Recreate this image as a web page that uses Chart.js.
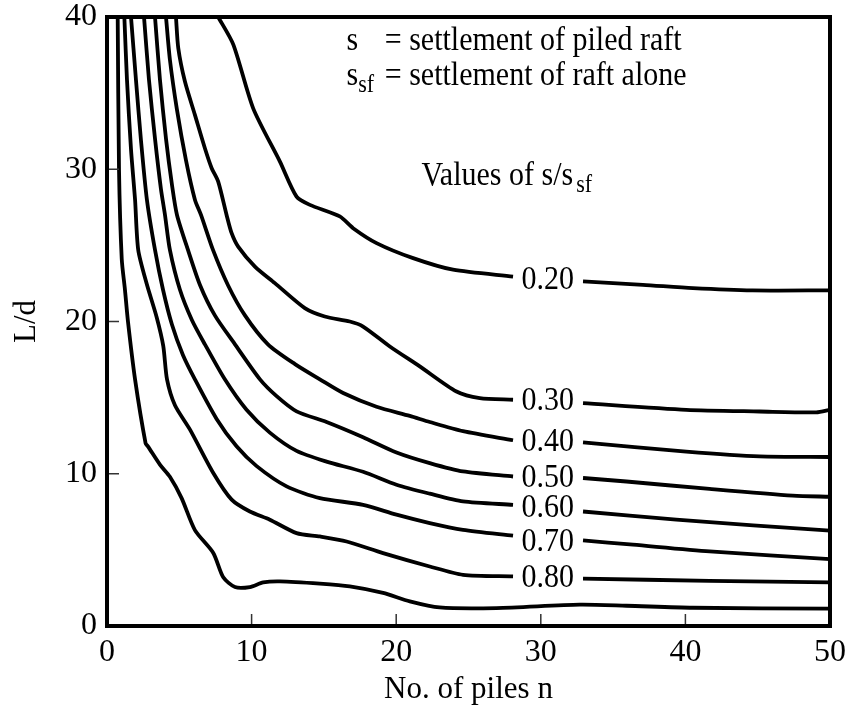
<!DOCTYPE html>
<html>
<head>
<meta charset="utf-8">
<script src="https://cdn.jsdelivr.net/npm/chart.js@4"></script>
<style>
  html, body { margin: 0; padding: 0; background: #fff; }
  canvas { display: block; }
</style>
</head>
<body>
<canvas id="chart" width="849" height="709"></canvas>
<script>
// axis ticks
const xTicks = [0, 10, 20, 30, 40, 50]
const yTicks = [0, 10, 20, 30, 40]
const innerX = [10, 20, 30, 40]
const innerY = [10, 20, 30]

// s/ssf curves (null = break for the label)
const n20  = [7.69, 8.73, 10.11, 11.96, 13.11, 14.03, 16.1, 17.02, 18.64, 21.17, 23.93, 28.08, 30.5, 32.92, 37.06, 40.52, 44.64, 50]
const ld20 = [40, 38.2, 34.0, 30.5, 28.2, 27.66, 26.9, 26.13, 25.15, 24.16, 23.4, 22.95, null, 22.63, 22.41, 22.19, 22.04, 22.05]

const n30  = [4.77, 4.93, 5.39, 6.08, 6.77, 7.24, 7.69, 8.27, 8.62, 9.07, 10.23, 11.61, 13.68, 15.06, 16.79, 17.71, 19.56, 21.63, 24.17, 25.78, 28.08, 30.5, 32.92, 40.06, 45.13, 49.05, 50]
const ld30 = [40, 37.95, 35.76, 33.57, 31.38, 30.07, 29.19, 27.0, 25.8, 24.92, 23.61, 22.52, 20.88, 20.33, 20.0, 19.67, 18.36, 17.05, 15.4, 14.97, 14.86, null, 14.64, 14.2, 14.09, 14.03, 14.2]

const n40  = [4.08, 4.35, 4.84, 5.46, 6.08, 6.5, 7.33, 8.36, 9.54, 11.13, 13.0, 14.72, 16.33, 18.64, 20.94, 22.32, 24.62, 28.08, 30.5, 32.92, 40.06, 45.13, 50]
const ld40 = [40, 37.2, 33.9, 30.6, 28.0, 27.0, 24.7, 22.4, 20.4, 18.5, 17.2, 16.2, 15.3, 14.4, 13.8, 13.4, 12.8, 12.2, null, 12.06, 11.46, 11.14, 11.1]

const n50  = [3.32, 3.66, 4.08, 4.49, 4.84, 5.6, 6.43, 7.46, 8.85, 10.58, 11.73, 13.11, 15.18, 17.71, 20.02, 22.32, 24.62, 28.08, 30.5, 32.92, 35.92, 41.67, 47.43, 50]
const ld50 = [40, 35.9, 32.0, 29.0, 27.0, 24.7, 22.4, 20.4, 18.5, 16.2, 15.1, 14.1, 13.4, 12.4, 11.4, 10.7, 10.15, 9.82, null, 9.72, 9.49, 9.0, 8.56, 8.49]

const n60  = [2.56, 2.9, 3.32, 3.73, 4.01, 4.35, 5.04, 5.87, 6.77, 8.15, 9.65, 11.26, 13.11, 15.18, 17.71, 20.02, 22.32, 24.62, 28.08, 30.5, 32.92, 39.37, 50]
const ld60 = [40, 35.9, 32.0, 28.7, 27.0, 24.7, 22.1, 20.1, 18.5, 16.2, 14.2, 12.7, 11.5, 10.8, 10.13, 9.28, 8.69, 8.18, 7.96, null, 7.52, 6.98, 6.26]

const n70  = [1.66, 2.0, 2.35, 2.76, 3.32, 3.87, 4.49, 5.25, 6.08, 7.58, 8.96, 10.35, 12.42, 14.72, 17.71, 20.02, 22.32, 24.62, 28.08, 30.5, 32.92, 36.37, 41.67, 50]
const ld70 = [40, 35.9, 31.9, 28.0, 24.7, 22.1, 19.8, 17.8, 16.2, 13.6, 11.8, 10.5, 9.17, 8.4, 7.96, 7.31, 6.76, 6.32, 5.93, null, 5.62, 5.34, 4.9, 4.39]

const n80  = [1.2, 1.38, 1.66, 1.94, 2.16, 2.74, 3.43, 3.89, 4.15, 4.7, 5.74, 7.35, 8.62, 9.88, 11.26, 13.11, 14.72, 16.57, 19.09, 22.32, 24.62, 28.08, 30.5, 32.92, 41.67, 50]
const ld80 = [40, 35.9, 31.3, 28.0, 24.7, 22.5, 20.3, 18.4, 16.2, 14.5, 12.9, 10.05, 8.3, 7.52, 6.98, 6.1, 5.88, 5.55, 4.79, 3.91, 3.36, 3.26, null, 3.11, 2.97, 2.86]

const n90  = [0.74, 0.83, 1.02, 1.24, 1.45, 1.94, 2.67, 2.83, 3.66, 4.35, 5.16, 6.08, 7.35, 8.04, 8.85, 9.88, 10.8, 11.96, 14.72, 16.79, 19.09, 20.94, 23.0, 26.93, 32.69, 35.92, 40.5, 50]
const ld90 = [40, 30.0, 24.1, 22.1, 20.0, 16.2, 12.0, 11.8, 10.6, 9.8, 8.4, 6.3, 4.8, 3.2, 2.56, 2.56, 2.86, 2.93, 2.78, 2.6, 2.17, 1.62, 1.22, 1.18, 1.4, 1.33, 1.2, 1.14]

// curve labels
const curveLabels = ['0.20', '0.30', '0.40', '0.50', '0.60', '0.70', '0.80']
const labelN = 28.66
const labelLd = [22.85, 14.92, 12.19, 9.82, 7.85, 5.67, 3.26]

const curves = [[n20, ld20], [n30, ld30], [n40, ld40], [n50, ld50], [n60, ld60], [n70, ld70], [n80, ld80], [n90, ld90]]

const FONT = '"Liberation Serif", "Times New Roman", serif'
const STRETCH = 1.15

function drawText(ctx, str, px, py, size, align) {
  ctx.save()
  ctx.translate(px, py)
  ctx.scale(1, STRETCH)
  ctx.font = `${size}px ${FONT}`
  ctx.textAlign = align || 'left'
  ctx.textBaseline = 'alphabetic'
  ctx.fillStyle = '#000'
  ctx.fillText(str, 0, 0)
  const w = ctx.measureText(str).width
  ctx.restore()
  return w
}

const decorations = {
  id: 'decorations',
  afterDatasetsDraw(chart) {
    const { ctx, chartArea: a, scales: { x, y } } = chart
    ctx.save()
    // inward tick marks
    ctx.strokeStyle = '#333'
    ctx.lineWidth = 1.5
    ctx.beginPath()
    innerX.forEach(v => {
      const px = x.getPixelForValue(v)
      ctx.moveTo(px, a.bottom)
      ctx.lineTo(px, a.bottom - 12)
    })
    innerY.forEach(v => {
      const py = y.getPixelForValue(v)
      ctx.moveTo(a.left, py)
      ctx.lineTo(a.left + 12, py)
    })
    ctx.stroke()
    // frame
    ctx.strokeStyle = '#000'
    ctx.lineWidth = 4
    ctx.strokeRect(a.left, a.top, a.right - a.left, a.bottom - a.top)

    // curve labels
    curveLabels.forEach((t, i) => {
      drawText(ctx, t, x.getPixelForValue(labelN), y.getPixelForValue(labelLd[i]) + 11, 30)
    })

    // key
    const sx = x.getPixelForValue(16.57)
    const ex = x.getPixelForValue(19.21)
    const y1 = y.getPixelForValue(37.84)
    const y2 = y.getPixelForValue(35.54)
    drawText(ctx, 's', sx, y1, 30)
    drawText(ctx, '= settlement of piled raft', ex, y1, 30)
    const w = drawText(ctx, 's', sx, y2, 30)
    drawText(ctx, 'sf', sx + w, y2 + 7, 22)
    drawText(ctx, '= settlement of raft alone', ex, y2, 30)

    const vx = x.getPixelForValue(21.75)
    const vy = y.getPixelForValue(28.98)
    const w2 = drawText(ctx, 'Values of s/s', vx, vy, 30)
    drawText(ctx, 'sf', vx + w2 + 3, vy + 7, 22)
    ctx.restore()
  }
}

const datasets = curves.map(([ns, lds]) => ({
  data: ns.map((n, i) => ({ x: n, y: lds[i] })),
  borderColor: '#000',
  borderWidth: 3.8,
  pointRadius: 0,
  tension: 0.25,
  fill: false,
  spanGaps: false
}))

new Chart(document.getElementById('chart'), {
  type: 'line',
  data: { datasets },
  options: {
    responsive: false,
    animation: false,
    layout: { padding: { top: 17, right: 19, left: 0, bottom: 0 } },
    plugins: { legend: { display: false }, tooltip: { enabled: false } },
    scales: {
      x: {
        type: 'linear',
        min: 0,
        max: 50,
        afterBuildTicks: s => { s.ticks = xTicks.map(v => ({ value: v })) },
        afterFit: s => { s.height = 83; s.paddingLeft = 0; s.paddingRight = 0 },
        grid: { display: false, drawTicks: false },
        border: { display: false },
        ticks: { color: '#000', padding: 7, font: { family: FONT, size: 32 } },
        title: { display: true, text: 'No. of piles n', color: '#000', padding: { top: 0, bottom: 1 }, font: { family: FONT, size: 31 } }
      },
      y: {
        type: 'linear',
        min: 0,
        max: 40,
        afterBuildTicks: s => { s.ticks = yTicks.map(v => ({ value: v })) },
        afterFit: s => { s.width = 107; s.paddingTop = 0; s.paddingBottom = 0 },
        grid: { display: false, drawTicks: false },
        border: { display: false },
        ticks: { color: '#000', padding: 10, font: { family: FONT, size: 32 } },
        title: { display: true, text: 'L/d', color: '#000', padding: { top: 8, bottom: 0 }, font: { family: FONT, size: 31 } }
      }
    }
  },
  plugins: [decorations]
})
</script>
</body>
</html>
